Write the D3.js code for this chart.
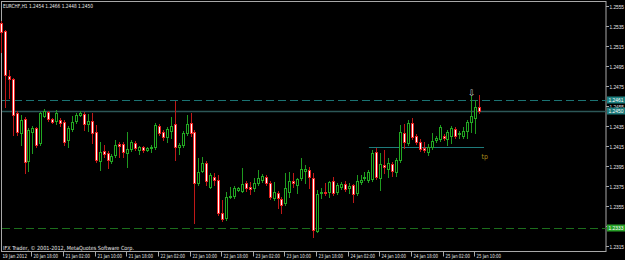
<!DOCTYPE html>
<html>
<head>
<meta charset="utf-8">
<script src="https://cdn.jsdelivr.net/npm/d3@7"></script>
<style>
html, body { margin: 0; padding: 0; background: #000; overflow: hidden; }
text { font-family: "Liberation Sans Narrow", "DejaVu Sans Condensed", "Liberation Sans", sans-serif; }
text.price { font-family: "Liberation Sans", sans-serif; }
</style>
</head>
<body>
<script>
// EURCHF H1 bars, oldest first
let opens = [1.2538,1.2530,1.2485,1.2482,1.2448,1.2428,1.2442,1.2400,1.2429,1.2433,
  1.2418,1.2445,1.2449,1.2442,1.2440,1.2441,1.2439,1.2421,1.2432,1.2440,
  1.2446,1.2447,1.2437,1.2440,1.2429,1.2400,1.2410,1.2408,1.2400,1.2406,
  1.2417,1.2417,1.2408,1.2412,1.2418,1.2411,1.2414,1.2411,1.2413,1.2414,
  1.2435,1.2429,1.2424,1.2430,1.2437,1.2414,1.2416,1.2428,1.2438,1.2429,
  1.2378,1.2390,1.2398,1.2374,1.2384,1.2381,1.2348,1.2343,1.2364,1.2365,
  1.2371,1.2370,1.2378,1.2374,1.2373,1.2378,1.2381,1.2384,1.2378,1.2363,
  1.2368,1.2362,1.2358,1.2369,1.2380,1.2376,1.2383,1.2390,1.2391,1.2383,
  1.2330,1.2368,1.2369,1.2369,1.2380,1.2369,1.2374,1.2377,1.2373,1.2376,
  1.2368,1.2379,1.2383,1.2381,1.2382,1.2409,1.2383,1.2396,1.2392,1.2397,
  1.2389,1.2401,1.2428,1.2418,1.2438,1.2425,1.2419,1.2413,1.2409,1.2414,
  1.2421,1.2422,1.2425,1.2422,1.2425,1.2432,1.2427,1.2425,1.2430,1.2439,
  1.2443,1.2454];
let highs = [1.2540,1.2531,1.2491,1.2483,1.2450,1.2446,1.2444,1.2433,1.2435,1.2434,
  1.2449,1.2452,1.2450,1.2443,1.2451,1.2443,1.2441,1.2435,1.2445,1.2448,
  1.2450,1.2449,1.2447,1.2448,1.2436,1.2419,1.2416,1.2410,1.2407,1.2421,
  1.2419,1.2419,1.2429,1.2421,1.2420,1.2415,1.2415,1.2414,1.2416,1.2438,
  1.2437,1.2431,1.2434,1.2444,1.2460,1.2418,1.2430,1.2446,1.2448,1.2431,
  1.2403,1.2404,1.2400,1.2388,1.2388,1.2386,1.2361,1.2369,1.2374,1.2375,
  1.2374,1.2393,1.2380,1.2379,1.2383,1.2391,1.2387,1.2386,1.2380,1.2379,
  1.2370,1.2364,1.2388,1.2389,1.2388,1.2383,1.2403,1.2396,1.2394,1.2388,
  1.2371,1.2373,1.2378,1.2380,1.2384,1.2378,1.2379,1.2380,1.2378,1.2377,
  1.2386,1.2386,1.2389,1.2391,1.2411,1.2413,1.2408,1.2411,1.2403,1.2399,
  1.2403,1.2436,1.2437,1.2441,1.2443,1.2427,1.2422,1.2419,1.2417,1.2428,
  1.2425,1.2436,1.2427,1.2431,1.2435,1.2434,1.2430,1.2434,1.2441,1.2465,
  1.2461,1.2466];
let lows = [1.2509,1.2454,1.2463,1.2426,1.2426,1.2416,1.2388,1.2390,1.2408,1.2414,
  1.2416,1.2444,1.2440,1.2438,1.2437,1.2435,1.2416,1.2414,1.2430,1.2438,
  1.2445,1.2431,1.2430,1.2418,1.2399,1.2391,1.2404,1.2393,1.2398,1.2404,
  1.2404,1.2404,1.2394,1.2410,1.2411,1.2407,1.2409,1.2410,1.2409,1.2412,
  1.2426,1.2421,1.2419,1.2423,1.2401,1.2407,1.2414,1.2426,1.2425,1.2338,
  1.2376,1.2389,1.2376,1.2373,1.2376,1.2346,1.2340,1.2341,1.2363,1.2363,
  1.2370,1.2369,1.2370,1.2367,1.2370,1.2376,1.2379,1.2376,1.2362,1.2361,
  1.2353,1.2348,1.2356,1.2364,1.2374,1.2368,1.2381,1.2378,1.2373,1.2324,
  1.2329,1.2363,1.2366,1.2364,1.2366,1.2367,1.2372,1.2370,1.2368,1.2359,
  1.2366,1.2377,1.2381,1.2379,1.2380,1.2382,1.2371,1.2388,1.2384,1.2385,
  1.2385,1.2399,1.2413,1.2416,1.2422,1.2417,1.2410,1.2409,1.2406,1.2412,
  1.2419,1.2420,1.2421,1.2416,1.2418,1.2423,1.2423,1.2423,1.2423,1.2429,
  1.2428,1.2448];
let closes = [1.2529,1.2486,1.2482,1.2446,1.2429,1.2441,1.2399,1.2431,1.2433,1.2416,
  1.2448,1.2450,1.2442,1.2439,1.2448,1.2438,1.2419,1.2433,1.2439,1.2446,
  1.2448,1.2437,1.2440,1.2428,1.2401,1.2409,1.2407,1.2401,1.2405,1.2416,
  1.2415,1.2409,1.2412,1.2419,1.2413,1.2414,1.2411,1.2413,1.2414,1.2436,
  1.2428,1.2424,1.2432,1.2435,1.2414,1.2416,1.2428,1.2437,1.2428,1.2378,
  1.2389,1.2398,1.2380,1.2386,1.2381,1.2348,1.2342,1.2364,1.2365,1.2373,
  1.2373,1.2377,1.2373,1.2372,1.2378,1.2383,1.2385,1.2378,1.2364,1.2369,
  1.2363,1.2356,1.2373,1.2380,1.2378,1.2382,1.2392,1.2392,1.2384,1.2331,
  1.2367,1.2369,1.2368,1.2379,1.2368,1.2376,1.2377,1.2372,1.2375,1.2367,
  1.2380,1.2381,1.2384,1.2389,1.2408,1.2384,1.2397,1.2394,1.2398,1.2390,
  1.2401,1.2429,1.2419,1.2438,1.2424,1.2419,1.2412,1.2411,1.2414,1.2420,
  1.2423,1.2434,1.2423,1.2429,1.2433,1.2425,1.2428,1.2430,1.2439,1.2445,
  1.2454,1.2450];

let timeLabels = ["19 Jan 2012","20 Jan 18:00","21 Jan 02:00","21 Jan 10:00","21 Jan 18:00",
  "22 Jan 02:00","22 Jan 10:00","22 Jan 18:00","23 Jan 02:00","23 Jan 10:00","23 Jan 18:00",
  "24 Jan 02:00","24 Jan 10:00","24 Jan 18:00","25 Jan 02:00","25 Jan 10:00"];
let priceTicks = [1.2555,1.2535,1.2515,1.2495,1.2475,1.2455,1.2435,1.2415,1.2395,1.2375,1.2355,1.2335,1.2315];

let symbolTitle = "EURCHF,H1";
let copyright = "IFX Trader, \u00a9 2001-2012, MetaQuotes Software Corp.";
let upperLevel = 1.2461;   // dashed teal line
let bidLevel = 1.2450;     // last close
let lowerLevel = 1.2333;   // dashed green line
let tpLevel = 1.2414;      // tp segment
let tpFromBar = 93;
let arrowBar = 119;

let svgWidth = 625;
let svgHeight = 260;
let plotRight = 606;
let plotBottom = 251.5;
let fontSize = 5.6;
let priceFont = 4.9;

let svg = d3.select("body").append("svg")
  .attr("width", svgWidth)
  .attr("height", svgHeight)
  .style("display", "block")
  .style("background", "#000");

let n = opens.length;
let xScale = d3.scaleLinear().domain([0, n - 1]).range([1.3, 479.6]);
let yScale = d3.scaleLinear().domain([1.2315, 1.2555]).range([246, 6]);

// frame
svg.append("rect").attr("x", 1.5).attr("y", 1.5)
  .attr("width", plotRight - 1.5).attr("height", plotBottom - 1.5)
  .attr("fill", "none").attr("stroke", "#a8a8a8");

let plot = svg.append("g");

// horizontal levels
function hline(price, color, dash, width, x1, x2) {
  let yy = Math.round(yScale(price)) + 0.5;
  plot.append("line")
    .attr("x1", x1 == null ? 2 : x1).attr("x2", x2 == null ? plotRight : x2)
    .attr("y1", yy).attr("y2", yy)
    .attr("stroke", color).attr("stroke-width", width)
    .attr("stroke-dasharray", dash);
}
hline(upperLevel, "#1b7373", "8,4", 1);
hline(bidLevel, "#2c5757", null, 1.6);
hline(lowerLevel, "#1c6e1c", "8,4", 1);
hline(tpLevel, "#1e7b7b", null, 1, xScale(tpFromBar), xScale(n) + 0.5);

plot.append("text")
  .attr("x", xScale(n) - 2).attr("y", yScale(tpLevel) + 12)
  .attr("font-size", 7).attr("fill", "#a88c1c")
  .text("tp");

// candles
let bars = d3.range(n).map(i => ({ i: i, o: opens[i], h: highs[i], l: lows[i], c: closes[i] }));

let candle = plot.selectAll("g.bar").data(bars).enter().append("g").attr("class", "bar");

candle.append("line")
  .attr("x1", d => Math.round(xScale(d.i) - 1.5) + 1.5)
  .attr("x2", d => Math.round(xScale(d.i) - 1.5) + 1.5)
  .attr("y1", d => Math.round(yScale(d.h)))
  .attr("y2", d => Math.round(yScale(d.l)) + 1)
  .attr("stroke", d => d.c >= d.o ? "#1f9a1f" : "#c01818");

candle.append("rect")
  .attr("x", d => Math.round(xScale(d.i) - 1.5) + 0.5)
  .attr("y", d => Math.round(yScale(Math.max(d.o, d.c))) + 0.5)
  .attr("width", 2)
  .attr("height", d => Math.max(0, Math.round(yScale(Math.min(d.o, d.c))) - Math.round(yScale(Math.max(d.o, d.c)))))
  .attr("fill", d => d.c >= d.o ? "#000" : "#fff")
  .attr("stroke", d => d.c >= d.o ? "#22a822" : "#e82424");

// arrow mark above bar
plot.append("text")
  .attr("x", xScale(arrowBar)).attr("y", yScale(highs[arrowBar]) - 0.5)
  .attr("text-anchor", "middle")
  .style("font-family", "'DejaVu Sans', sans-serif")
  .attr("font-size", 9).attr("fill", "#c8c8c8")
  .text("\u21e9");

// price axis
let yAxis = svg.append("g");
priceTicks.forEach(p => {
  let yy = Math.round(yScale(p)) + 0.5;
  yAxis.append("line").attr("x1", plotRight).attr("x2", plotRight + 3)
    .attr("y1", yy).attr("y2", yy).attr("stroke", "#a8a8a8");
  yAxis.append("text").attr("class", "price").attr("x", plotRight + 3.5).attr("y", yy + 2)
    .attr("font-size", priceFont).attr("fill", "#e8e8e8")
    .attr("textLength", 14.5).attr("lengthAdjust", "spacingAndGlyphs")
    .text(p.toFixed(4));
});

function priceBox(price, color) {
  let yy = Math.round(yScale(price));
  yAxis.append("rect").attr("x", plotRight + 1).attr("y", yy - 3.5)
    .attr("width", 18).attr("height", 7).attr("fill", color);
  yAxis.append("text").attr("class", "price").attr("x", plotRight + 2.5).attr("y", yy + 2)
    .attr("font-size", priceFont).attr("fill", "#fff")
    .attr("textLength", 15).attr("lengthAdjust", "spacingAndGlyphs")
    .text(price.toFixed(4));
}
priceBox(upperLevel, "#1d8080");
priceBox(bidLevel, "#1d7a7a");
priceBox(lowerLevel, "#28a028");

// time axis
let xAxis = svg.append("g");
timeLabels.forEach((t, k) => {
  let xx = Math.round(xScale(k * 8) - 1.5) + 0.5;
  if (k > 0) {
    xAxis.append("line").attr("x1", xx).attr("x2", xx)
      .attr("y1", plotBottom).attr("y2", plotBottom + 5).attr("stroke", "#a8a8a8");
  }
  xAxis.append("text").attr("x", xx + 2).attr("y", 258)
    .attr("font-size", fontSize).attr("fill", "#e8e8e8")
    .attr("textLength", 24.5).attr("lengthAdjust", "spacingAndGlyphs")
    .text(t);
});

// header and footer text
svg.append("text").attr("x", 3).attr("y", 8)
  .attr("font-size", fontSize).attr("fill", "#e8e8e8")
  .attr("textLength", 90).attr("lengthAdjust", "spacingAndGlyphs")
  .text(symbolTitle + " " + [opens[n - 1], highs[n - 1], lows[n - 1], closes[n - 1]].map(v => v.toFixed(4)).join(" "));

svg.append("text").attr("x", 3).attr("y", 249.5)
  .attr("font-size", fontSize).attr("fill", "#e8e8e8")
  .attr("textLength", 131).attr("lengthAdjust", "spacingAndGlyphs")
  .text(copyright);
</script>
</body>
</html>
